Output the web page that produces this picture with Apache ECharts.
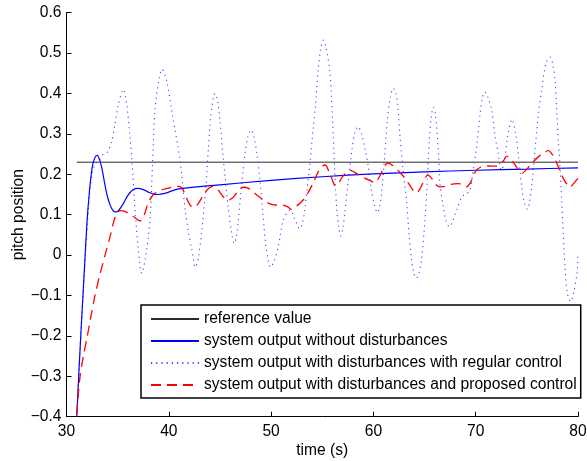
<!DOCTYPE html>
<html>
<head>
<meta charset="utf-8">
<script src="https://cdn.jsdelivr.net/npm/echarts@6/dist/echarts.min.js"></script>
<style>
html,body{margin:0;padding:0;background:#fff;}
#c{width:587px;height:461px;}
</style>
</head>
<body>
<div id="c"></div>
<script>
// ---- data ----
const seriesNames = [
  'reference value',
  'system output without disturbances',
  'system output with disturbances with regular control',
  'system output with disturbances and proposed control'
];
const xTicks = [30, 40, 50, 60, 70, 80];
const yTicks = [-0.4, -0.3, -0.2, -0.1, 0, 0.1, 0.2, 0.3, 0.4, 0.5, 0.6];

const refX = [31, 80];
const refY = [0.23, 0.23];

const blueX = [31,31.25,31.5,31.75,32,32.25,32.5,32.75,33,33.25,33.5,33.75,34,34.25,34.5,34.75,35,35.5,36,36.5,37,37.5,38,38.5,39,39.5,40,40.5,41,42,45,50,55,60,65,70,75,80];
const blueY = [-0.40,-0.27,-0.15,-0.035,0.08,0.16,0.215,0.24,0.247,0.235,0.21,0.175,0.145,0.125,0.112,0.107,0.108,0.125,0.148,0.162,0.165,0.162,0.156,0.151,0.150,0.152,0.156,0.161,0.164,0.167,0.174,0.185,0.194,0.201,0.206,0.210,0.213,0.216];

const dotX = [31,31.25,31.5,31.75,32,32.25,32.5,32.8,33.2,33.6,34,34.4,34.7,35.06,35.55,35.9,36.2,36.4,36.7,37,37.35,37.7,38.16,38.4,38.65,39,39.35,39.8,40.44,41.1,41.6,41.9,42.24,42.6,42.9,43.2,43.64,43.86,44.1,44.5,44.75,45,45.27,45.5,45.8,46.15,46.4,46.6,46.8,47.1,47.45,47.75,48.04,48.3,48.6,48.9,49.2,49.5,49.96,50.3,50.7,51.2,51.85,52.3,52.8,53.1,53.3,53.8,54.1,54.36,54.6,54.85,55.1,55.4,55.76,56,56.2,56.4,56.6,56.8,57,57.2,57.55,57.9,58.2,58.5,58.85,59.2,59.5,59.8,60.15,60.4,60.6,60.8,61.1,61.36,61.65,61.95,62.2,62.4,62.6,62.9,63.26,63.5,63.74,63.95,64.2,64.45,64.7,65.04,65.27,65.47,65.65,65.86,66.05,66.35,66.5,66.83,67.1,67.42,67.7,68.14,68.66,69,69.44,69.8,70.1,70.4,70.65,70.9,71.2,71.56,71.9,72.2,72.5,72.8,73.1,73.55,73.9,74.2,74.5,74.75,75.05,75.25,75.47,75.8,76.1,76.45,76.87,77.26,77.55,77.75,77.9,78.07,78.24,78.4,78.56,78.73,78.96,79.3,79.6,79.9,80];
const dotY = [-0.40,-0.27,-0.15,-0.04,0.06,0.15,0.20,0.225,0.235,0.25,0.255,0.28,0.318,0.372,0.41,0.37,0.293,0.235,0.112,0.021,-0.045,-0.01,0.087,0.22,0.359,0.43,0.46,0.43,0.334,0.235,0.112,0.06,0.015,-0.03,-0.005,0.055,0.174,0.26,0.343,0.40,0.385,0.334,0.253,0.194,0.12,0.054,0.029,0.045,0.087,0.169,0.252,0.295,0.31,0.295,0.252,0.186,0.103,0.021,-0.03,-0.015,0.021,0.087,0.112,0.09,0.065,0.083,0.116,0.228,0.31,0.376,0.458,0.51,0.532,0.51,0.45,0.34,0.22,0.12,0.07,0.047,0.065,0.103,0.186,0.26,0.305,0.318,0.30,0.26,0.219,0.161,0.12,0.105,0.118,0.153,0.244,0.334,0.39,0.413,0.40,0.367,0.293,0.211,0.128,0.046,-0.012,-0.045,-0.057,-0.045,-0.012,0.087,0.186,0.285,0.34,0.366,0.35,0.26,0.178,0.12,0.085,0.07,0.08,0.112,0.145,0.15,0.161,0.22,0.268,0.343,0.39,0.404,0.39,0.359,0.293,0.252,0.21,0.23,0.29,0.336,0.30,0.24,0.17,0.13,0.113,0.13,0.169,0.26,0.343,0.409,0.475,0.49,0.47,0.433,0.367,0.285,0.219,0.136,0.054,-0.029,-0.095,-0.115,-0.09,-0.045,0.0];

const redX = [31,31.3,31.65,32,32.4,32.8,33.3,33.8,34.3,34.7,35,35.3,35.8,36.5,37.2,37.6,38,38.5,39,39.5,40,40.5,41,41.3,41.6,42,42.4,42.8,43.3,43.8,44.3,44.8,45.3,45.8,46.3,46.8,47.3,47.8,48.3,48.8,49.3,49.9,50.5,51.1,51.6,52,52.4,52.9,53.4,54.1,54.6,55,55.3,55.6,56,56.25,56.6,56.9,57.3,57.7,58.1,58.6,59.2,59.8,60.1,60.5,60.9,61.4,61.9,62.5,63,63.5,63.9,64.2,64.6,65,65.3,65.7,66.1,66.5,67,67.6,68.2,68.7,69.1,69.5,70,70.5,71,71.6,72.1,72.7,73.05,73.4,73.8,74.2,74.5,74.9,75.3,75.7,76.2,76.7,77.1,77.4,77.7,78.2,78.6,78.9,79.2,79.5,80];
const redY = [-0.395,-0.305,-0.25,-0.205,-0.15,-0.098,-0.045,0.003,0.05,0.09,0.106,0.11,0.107,0.096,0.085,0.10,0.13,0.15,0.158,0.163,0.166,0.169,0.17,0.165,0.15,0.127,0.118,0.125,0.145,0.163,0.17,0.162,0.145,0.136,0.143,0.16,0.168,0.165,0.155,0.145,0.135,0.127,0.124,0.124,0.12,0.113,0.12,0.13,0.145,0.178,0.206,0.22,0.223,0.21,0.185,0.172,0.178,0.191,0.203,0.21,0.206,0.198,0.19,0.183,0.179,0.19,0.21,0.228,0.222,0.207,0.193,0.175,0.16,0.154,0.166,0.188,0.198,0.19,0.175,0.169,0.17,0.175,0.177,0.175,0.169,0.18,0.208,0.218,0.221,0.22,0.22,0.233,0.245,0.237,0.225,0.21,0.202,0.21,0.222,0.233,0.245,0.253,0.259,0.252,0.24,0.211,0.188,0.176,0.168,0.175,0.19];

// ---- helpers ----
const zip = (xs, ys) => xs.map((x, i) => [x, ys[i]]);
const fmtY = v => {
  const r = Math.round(v * 10) / 10;
  if (r === 0) return '0';
  return r < 0 ? '\u2212' + (-r).toFixed(1) : r.toFixed(1);
};
const FONT = '"Liberation Sans", Arial, Helvetica, sans-serif';
const FS = 15.6;

const chart = echarts.init(document.getElementById('c'), null, {renderer: 'canvas'});
chart.setOption({
  animation: false,
  backgroundColor: '#fff',
  grid: {left: 66.5, right: 9, top: 12.7, bottom: 44.3, containLabel: false, outerBoundsMode: 'none'},
  xAxis: {
    type: 'value', min: xTicks[0], max: xTicks[xTicks.length - 1], interval: 10,
    name: 'time (s)', nameLocation: 'middle', nameGap: 25.5, nameMoveOverlap: false,
    nameTextStyle: {fontFamily: FONT, fontSize: FS, color: '#000'},
    axisLine: {onZero: false, lineStyle: {color: '#000', width: 1}},
    axisTick: {inside: true, length: 5, lineStyle: {color: '#000'}},
    axisLabel: {fontFamily: FONT, fontSize: FS, color: '#000', margin: 7},
    splitLine: {show: false}
  },
  yAxis: {
    type: 'value', min: yTicks[0], max: yTicks[yTicks.length - 1], interval: 0.1,
    name: 'pitch position', nameLocation: 'middle', nameGap: 40, nameRotate: 90, nameMoveOverlap: false,
    nameTextStyle: {fontFamily: FONT, fontSize: FS, color: '#000'},
    axisLine: {show: true, onZero: false, lineStyle: {color: '#000', width: 1}},
    axisTick: {show: true, inside: true, length: 5, lineStyle: {color: '#000'}},
    axisLabel: {fontFamily: FONT, fontSize: FS, color: '#000', margin: 5, formatter: fmtY},
    splitLine: {show: false}
  },
  legend: {
    orient: 'vertical', left: 141, top: 305,
    data: seriesNames,
    backgroundColor: '#fff', borderColor: '#000', borderWidth: 1.5,
    padding: [5, 4, 4, 9],
    itemWidth: 48, itemHeight: 14, itemGap: 4,
    itemStyle: {opacity: 0},
    textStyle: {fontFamily: FONT, fontSize: FS, color: '#000', lineHeight: 18}
  },
  series: [
    {name: seriesNames[0], type: 'line', data: zip(refX, refY), symbol: 'none',
     lineStyle: {color: '#2a2a2a', width: 1}, itemStyle: {color: '#2a2a2a'}, z: 2},
    {name: seriesNames[1], type: 'line', data: zip(blueX, blueY), symbol: 'none', smooth: 0.3,
     lineStyle: {color: '#0000ff', width: 1.2}, itemStyle: {color: '#0000ff'}, z: 3},
    {name: seriesNames[2], type: 'line', data: zip(dotX, dotY), symbol: 'none', smooth: 0.3,
     lineStyle: {color: '#4848ff', width: 1.1, type: [1.2, 4]}, itemStyle: {color: '#4848ff'}, z: 2},
    {name: seriesNames[3], type: 'line', data: zip(redX, redY), symbol: 'none', smooth: 0.3,
     lineStyle: {color: '#ff0000', width: 1.3, type: [10, 6]}, itemStyle: {color: '#ff0000'}, z: 4}
  ]
});
</script>
</body>
</html>
